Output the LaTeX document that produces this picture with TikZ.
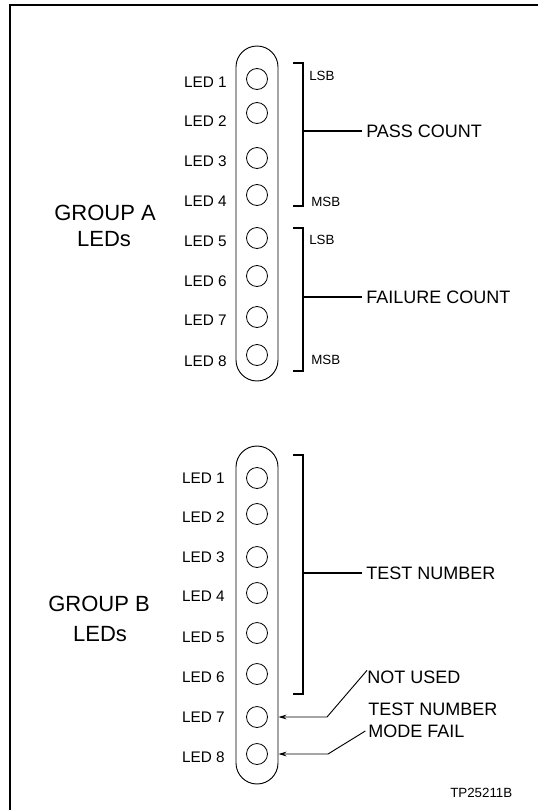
\documentclass[tikz,border=0pt]{standalone}
\usepackage{fontspec}
\setmainfont{Liberation Sans}
\usetikzlibrary{arrows.meta}
\tikzset{
  led/.style={circle, draw, line width=0.6pt, minimum size=15.75pt, inner sep=0pt},
  pill/.style={draw, line width=0.7pt, rounded corners=15.75pt, minimum width=31.5pt, inner sep=0pt},
  ledlab/.style={anchor=east, inner sep=0pt, font=\fontsize{11.5}{13}\selectfont},
  biglab/.style={anchor=west, inner sep=3pt, font=\fontsize{13.5}{16}\selectfont},
  grplab/.style={inner sep=0pt, font=\fontsize{16.5}{19}\selectfont},
  bitlab/.style={anchor=west, inner sep=0pt, font=\fontsize{10}{12}\selectfont},
  brk/.style={line width=0.8pt},
  ptr/.style={line width=0.7pt, -{Stealth[length=6pt,width=3.5pt]}}
}

\begin{document}
\begin{tikzpicture}[x=0.75pt, y=-0.75pt]
\useasboundingbox (0,0) rectangle (539,810);
% frame
\draw[line width=1pt] (10,810) -- (10,5) -- (538,5);

% group A
\node[pill, minimum height=251.25pt] (pillA) at (257,213.5) {};
\foreach \i/\cy/\ty in {1/79/82, 2/113/121, 3/158/161, 4/195/201, 5/238/241, 6/276/281, 7/317/320, 8/355/361}{
  \node[led] (a\i) at (257,\cy) {};
  \node[ledlab] (la\i) at (227,\ty) {LED \i};
}
\node[grplab] (gA1) at (105,213) {GROUP A};
\node[grplab] (gA2) at (104,239) {LEDs};

% pass count
\draw[brk] (293,63) -- (303,63) -- (303,206) -- (293,206);
\node[biglab] (pc) at (362,131) {PASS COUNT};
\draw[brk] (303,131) -- (pc.west);
\node[bitlab] (lsbA) at (309,76) {LSB};
\node[bitlab] (msbA) at (311,202) {MSB};

% failure count
\draw[brk] (293,228) -- (303,228) -- (303,371) -- (293,371);
\node[biglab] (fc) at (362,297) {FAILURE COUNT};
\draw[brk] (303,297) -- (fc.west);
\node[bitlab] (lsbB) at (309,240) {LSB};
\node[bitlab] (msbB) at (311,360) {MSB};

% group B
\node[pill, minimum height=253.5pt] (pillB) at (257,615) {};
\foreach \i/\cy/\ty in {1/478/478, 2/514/517, 3/557/557, 4/593/596, 5/633/637, 6/674/677, 7/717/717, 8/754/757}{
  \node[led] (b\i) at (257,\cy) {};
  \node[ledlab] (lb\i) at (225,\ty) {LED \i};
}
\node[grplab] (gB1) at (99,604) {GROUP B};
\node[grplab] (gB2) at (100,634) {LEDs};

% test number
\draw[brk] (293,455) -- (303,455) -- (303,694) -- (293,694);
\node[biglab] (tn) at (362,573) {TEST NUMBER};
\draw[brk] (303,573) -- (tn.west);

% pointers
\node[biglab, inner sep=0pt] (nu) at (367,677) {NOT USED};
\node[biglab, inner sep=0pt] (tm) at (368,709) {TEST NUMBER};
\node[biglab, inner sep=0pt] (mf) at (368,731) {MODE FAIL};
\coordinate (k7) at (327,717);
\coordinate (k8) at (328,754);
\draw[ptr] (nu.north west) -- (k7) -- (b7 -| pillB.east);
\draw[ptr] ([xshift=-2pt]mf.west) -- (k8) -- (b8 -| pillB.east);

\node[bitlab] (tp) at (450,793) {TP25211B};
\end{tikzpicture}
\end{document}
